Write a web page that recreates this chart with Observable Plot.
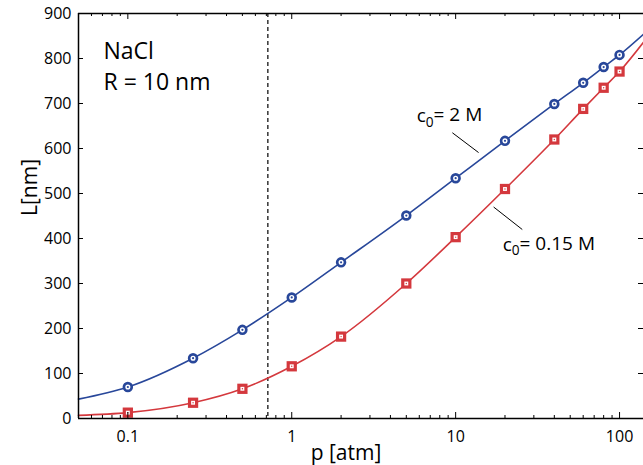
<!DOCTYPE html>
<html><head><meta charset="utf-8">
<script src="https://cdn.jsdelivr.net/npm/d3@7"></script>
<script src="https://cdn.jsdelivr.net/npm/@observablehq/plot@0.6"></script>
<style>body{margin:0;background:#fff} svg{display:block}</style>
</head><body><div id="chart"></div>
<script>
// ---- data ----
const pressure = [0.1, 0.25, 0.5, 1, 2, 5, 10, 20, 40, 60, 80, 100];
const L_c2 = [70, 134, 197, 269, 347, 451, 534, 617, 699, 746, 781, 808];
const L_c015 = [13, 35, 66, 116, 182, 300, 403, 510, 620, 688, 735, 771];
// fitted curves (data points plus the curve ends at the frame edges)
const curveP = [0.05, 0.1, 0.25, 0.5, 1, 2, 5, 10, 20, 40, 60, 80, 100, 140];
const curveC2 = [43, 70, 134, 197, 269, 347, 451, 534, 617, 699, 746, 781, 808, 854];
const curveC015 = [7, 13, 35, 66, 116, 182, 300, 403, 510, 620, 688, 735, 771, 836];
const dashedP = [0.715];
const xMajor = [0.1, 1, 10, 100];
const xMinor = [0.06, 0.07, 0.08, 0.09, 0.2, 0.3, 0.4, 0.5, 0.6, 0.7, 0.8, 0.9,
                2, 3, 4, 5, 6, 7, 8, 9, 20, 30, 40, 50, 60, 70, 80, 90];
const yTicks = [0, 100, 200, 300, 400, 500, 600, 700, 800, 900];
const annoText = ["c0= 2 M", "c0= 0.15 M"];
const annoP = [5.78, 19.35];
const annoL = [658, 372];
const leaderP1 = [9.55, 17.05];
const leaderL1 = [635, 470];
const leaderP2 = [13.8, 25.5];
const leaderL2 = [591, 420];
const sampleLabel = "NaCl\nR = 10 nm";

// ---- layout / style ----
const W = 643, H = 465, mL = 78, mR = 0, mT = 13, mB = 47;
const plotW = W - mL - mR, plotH = H - mT - mB;
const blue = "#28479a", red = "#d4383d";
const font = "'Open Sans', 'DejaVu Sans', sans-serif";

const rowsC2 = pressure.map((p, i) => ({p, L: L_c2[i]}));
const rowsC015 = pressure.map((p, i) => ({p, L: L_c015[i]}));
const curveRowsC2 = curveP.map((p, i) => ({p, L: curveC2[i]}));
const curveRowsC015 = curveP.map((p, i) => ({p, L: curveC015[i]}));
const annos = annoText.map((t, i) => ({t, p: annoP[i], L: annoL[i]}));
const leaders = leaderP1.map((p, i) => ({p1: p, L1: leaderL1[i], p2: leaderP2[i], L2: leaderL2[i]}));

const chart = Plot.plot({
  width: W, height: H,
  marginLeft: mL, marginRight: mR, marginTop: mT, marginBottom: mB,
  style: {fontFamily: font, background: "#fff", color: "#000", overflow: "visible"},
  x: {type: "log", domain: [0.05, 140]},
  y: {domain: [0, 900]},
  marks: [
    Plot.ruleX(dashedP, {stroke: "#000", strokeWidth: 1.2, strokeDasharray: "4,3"}),
    Plot.line(curveRowsC2, {x: "p", y: "L", stroke: blue, strokeWidth: 1.6, curve: "monotone-x"}),
    Plot.line(curveRowsC015, {x: "p", y: "L", stroke: red, strokeWidth: 1.6, curve: "monotone-x"}),
    // markers c0 = 2 M
    Plot.dot(rowsC2, {x: "p", y: "L", r: 3.9, stroke: blue, strokeWidth: 2.7, fill: "#fff"}),
    Plot.dot(rowsC2, {x: "p", y: "L", r: 1.1, fill: blue}),
    // markers c0 = 0.15 M
    Plot.dot(rowsC015, {x: "p", y: "L", symbol: "square", r: 5.8, fill: red}),
    Plot.dot(rowsC015, {x: "p", y: "L", symbol: "square", r: 2.2, fill: "#fff"}),
    Plot.dot(rowsC015, {x: "p", y: "L", r: 0.7, fill: red}),
    // frame
    Plot.ruleX([0.05], {stroke: "#000", strokeWidth: 1.5}),
    Plot.ruleY([0], {stroke: "#000", strokeWidth: 1.6}),
    Plot.ruleY([900], {stroke: "#000", strokeWidth: 1.3}),
    // inward ticks
    Plot.tickX(xMajor, {x: d => d, insetTop: plotH - 6, stroke: "#000"}),
    Plot.tickX(xMinor, {x: d => d, insetTop: plotH - 3, stroke: "#000"}),
    Plot.tickX(xMajor, {x: d => d, insetBottom: plotH - 6, stroke: "#000"}),
    Plot.tickX(xMinor, {x: d => d, insetBottom: plotH - 3, stroke: "#000"}),
    Plot.tickY(yTicks, {y: d => d, insetRight: plotW - 5, stroke: "#000"}),
    Plot.tickY(yTicks, {y: d => d, insetLeft: plotW - 5, stroke: "#000"}),
    // tick labels
    Plot.axisX(xMajor, {tickSize: 0, tickPadding: 12, fontSize: 16, tickFormat: d => String(d), label: null}),
    Plot.axisY(yTicks, {tickSize: 0, tickPadding: 7, fontSize: 16, label: null}),
    // axis titles
    Plot.text(["p [atm]"], {text: d => d, frameAnchor: "bottom", dy: 41, dx: -15, lineAnchor: "bottom", fontSize: 21}),
    Plot.text(["L[nm]"], {text: d => d, frameAnchor: "left", dx: -48, rotate: -90, fontSize: 21}),
    // sample label
    Plot.text([sampleLabel], {text: d => d, frameAnchor: "top-left", dx: 25, dy: 23, lineAnchor: "top", textAnchor: "start", fontSize: 23, lineHeight: 1.35}),
    // annotations
    Plot.link(leaders, {x1: "p1", y1: "L1", x2: "p2", y2: "L2", stroke: "#000", strokeWidth: 1}),
    Plot.text(annos, {x: "p", y: "L", text: "t", textAnchor: "start", lineAnchor: "bottom", fontSize: 19})
  ]
});
document.getElementById("chart").appendChild(chart);

// render the subscript in "c0"
d3.select(chart).selectAll("text").each(function() {
  const s = this.textContent;
  if (s.startsWith("c0=")) {
    const sel = d3.select(this);
    sel.text(null);
    sel.append("tspan").text("c");
    sel.append("tspan").attr("dy", "0.3em").attr("font-size", "0.72em").text("0");
    sel.append("tspan").attr("dy", "-0.3em").text(s.slice(2));
  }
});
</script>
</body></html>
